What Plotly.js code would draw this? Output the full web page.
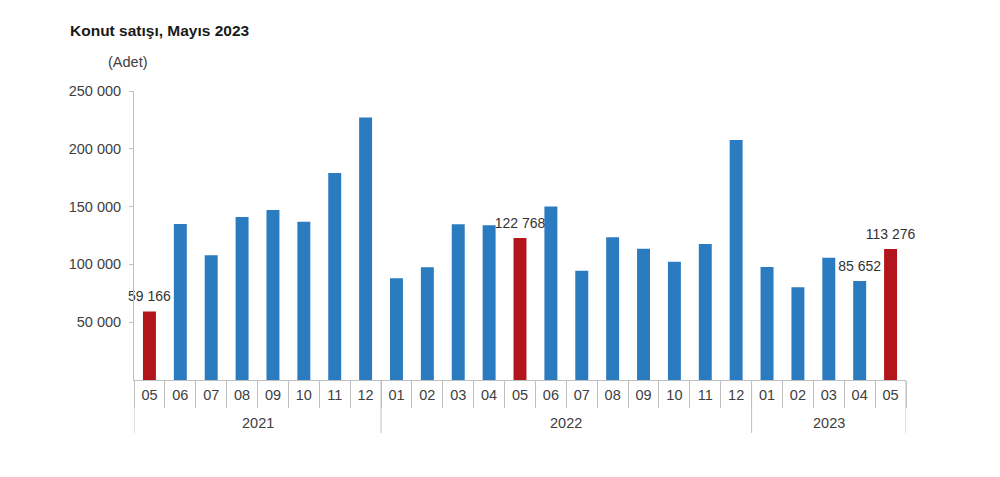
<!DOCTYPE html>
<html>
<head>
<meta charset="utf-8">
<script src="https://cdn.plot.ly/plotly-3.0.1.min.js"></script>
<style>
  html, body { margin: 0; padding: 0; background: #fff; }
  #myPlot { width: 1000px; height: 477px; }
</style>
</head>
<body>
<div id="myPlot"></div>
<script>
// monthly house sales, May 2021 - May 2023
var years = ["2021", "2021", "2021", "2021", "2021", "2021", "2021", "2021",
  "2022", "2022", "2022", "2022", "2022", "2022", "2022", "2022", "2022", "2022", "2022", "2022",
  "2023", "2023", "2023", "2023", "2023"];
var months = ["05", "06", "07", "08", "09", "10", "11", "12",
  "01", "02", "03", "04", "05", "06", "07", "08", "09", "10", "11", "12",
  "01", "02", "03", "04", "05"];
var sales = [59166, 135000, 108000, 141000, 147000, 137000, 179000, 227000,
  88000, 97500, 134700, 133800, 122768, 150000, 94600, 123400, 113600, 102400, 117600, 207600,
  97800, 80200, 105800, 85652, 113276];
// which bars carry a value label
var labelled = [true, false, false, false, false, false, false, false,
  false, false, false, false, true, false, false, false, false, false, false, false,
  false, false, false, true, true];
var yTicks = [50000, 100000, 150000, 200000, 250000];

var blue = "#2b7bc0";
var red = "#b3151c";
var axisGrey = "#bfbfbf";
var fontFamily = "Liberation Sans, Arial, sans-serif";

function fmt(v) {
  return String(v).replace(/\B(?=(\d{3})+(?!\d))/g, " ");
}

var keys = years.map(function (y, i) { return y + "-" + months[i]; });
var colors = months.map(function (m) { return m === "05" ? red : blue; });
var labels = sales.map(function (v, i) { return labelled[i] ? fmt(v) : ""; });

// year groups: first and last category index of each year
var groups = [];
years.forEach(function (y, i) {
  var g = groups[groups.length - 1];
  if (!g || g.year !== y) groups.push({ year: y, first: i, last: i });
  else g.last = i;
});

var bars = {
  type: "bar",
  x: keys,
  y: sales,
  marker: { color: colors },
  hoverinfo: "y"
};

// value labels sit a little above the bar tops
var valueText = {
  type: "scatter",
  mode: "markers+text",
  x: keys,
  y: sales,
  text: labels,
  textposition: "top center",
  marker: { size: 9, color: "rgba(0,0,0,0)" },
  textfont: { family: fontFamily, size: 14, color: "#333333" },
  cliponaxis: false,
  hoverinfo: "skip"
};

var yearLabels = groups.map(function (g) {
  return {
    text: g.year,
    xref: "x", yref: "paper",
    x: (g.first + g.last) / 2, y: -0.149,
    xanchor: "center", yanchor: "middle",
    showarrow: false,
    font: { size: 14.5, color: "#404040" }
  };
});

var dividers = [];
groups.forEach(function (g, k) {
  if (k === 0) dividers.push(g.first - 0.5);
  dividers.push(g.last + 0.5);
});
var dividerShapes = dividers.map(function (d) {
  return {
    type: "line",
    xref: "x", yref: "paper",
    x0: d, x1: d, y0: 0, y1: -0.183,
    line: { color: axisGrey, width: 1 }
  };
});

var layout = {
  width: 1000,
  height: 477,
  margin: { l: 134, r: 94, t: 91, b: 97 },
  paper_bgcolor: "#ffffff",
  plot_bgcolor: "#ffffff",
  separators: ", ",
  bargap: 0.58,
  showlegend: false,
  font: { family: fontFamily, size: 14.5, color: "#404040" },
  title: {
    text: "<b>Konut satışı, Mayıs 2023</b>",
    font: { size: 15.5, color: "#1a1a1a" },
    x: 0.07, xref: "container", xanchor: "left",
    y: 0.935, yref: "container", yanchor: "middle"
  },
  xaxis: {
    type: "category",
    range: [-0.5, keys.length - 0.5],
    tickvals: keys,
    ticktext: months,
    showline: true,
    linecolor: axisGrey,
    ticks: "outside",
    tickson: "boundaries",
    ticklen: 27,
    tickcolor: axisGrey,
    ticklabelstandoff: 2,
    showgrid: false,
    zeroline: false
  },
  yaxis: {
    range: [0, 250000],
    tickvals: yTicks,
    tickformat: ",d",
    showline: true,
    linecolor: axisGrey,
    ticks: "outside",
    ticklen: 4,
    tickcolor: axisGrey,
    ticklabelstandoff: 5,
    showgrid: false,
    zeroline: false
  },
  shapes: dividerShapes,
  annotations: [{
    text: "(Adet)",
    xref: "paper", yref: "paper",
    x: 0.021, y: 1.1,
    xanchor: "right", yanchor: "middle",
    showarrow: false,
    font: { size: 14.5, color: "#404040" }
  }].concat(yearLabels)
};

Plotly.newPlot("myPlot", [bars, valueText], layout, { displayModeBar: false });
</script>
</body>
</html>
